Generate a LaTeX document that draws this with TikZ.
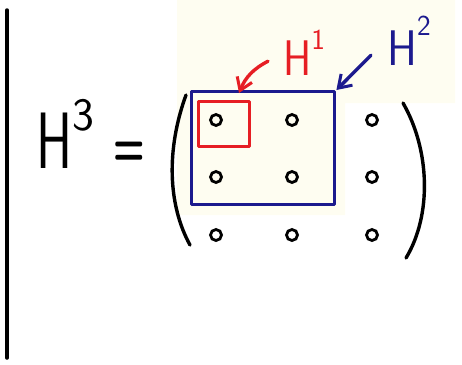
\documentclass[tikz,border=0pt]{standalone}
\usepackage{fontspec}
\usepackage{graphicx}
\usetikzlibrary{arrows.meta,positioning}
\definecolor{penblue}{HTML}{1C1A8E}
\definecolor{penred}{HTML}{E61E24}
\definecolor{paper}{HTML}{FEFDF1}
% letter with a raised index, scaled with the current font
\newcommand{\Hsup}[3]{\scalebox{#3}[1]{H}\raisebox{#1}{\scalebox{.58}{#2}}}

\begin{document}
\begin{tikzpicture}[x=1pt,y=-1pt,
  ink/.style={line width=3.4pt,line cap=round,line join=round},
  dot/.style={circle,draw,line width=2.8pt,minimum size=11pt,inner sep=0pt},
  bigtxt/.style={font=\sffamily\fontsize{80}{80}\selectfont,inner sep=0pt},
  smalltxt/.style={font=\sffamily\fontsize{50}{50}\selectfont,inner sep=0pt},
  pointer/.style={ink,-{Straight Barb[length=12pt,width=16pt,line width=3pt]}}]
  \useasboundingbox (0,0) rectangle (462,364);
  % paper tint behind the boxes
  \fill[paper] (177,0) -- (455,0) -- (455,103) -- (345,103) -- (345,215) -- (177,215) -- cycle;
  % margin line
  \draw[ink,line width=3.5pt] (7,10) -- (7,358);

  \node[bigtxt,anchor=base west] (lhs) at (36,168) {\Hsup{.47em}{3}{.68}};
  \node[bigtxt,anchor=base,font=\sffamily\bfseries\fontsize{46}{46}\selectfont] (eq) at (129,165)
    {\scalebox{.8}[1.25]{=}};

  % brackets
  \draw[ink] (186,95) .. controls (166,150) and (168,205) .. (190,245);
  \draw[ink] (403,103) .. controls (430,150) and (432,215) .. (406,258);

  \node[ink,draw=penblue,minimum width=143pt,minimum height=113pt,inner sep=0pt,
        anchor=north west] (blk) at (190,90) {};
  \node[ink,draw=penred,minimum width=51pt,minimum height=45pt,inner sep=0pt,
        anchor=north west] (cell) at (197,100) {};

  \foreach \r/\y in {1/120,2/177,3/235}
    \foreach \c/\x in {1/216,2/292,3/372}
      \node[dot] (m\r\c) at (\x,\y) {};

  \node[smalltxt,text=penred,anchor=base west] (hone) at (283,75) {\Hsup{.52em}{1}{.85}};
  \node[smalltxt,text=penblue,anchor=base west] (htwo) at (387,65) {\Hsup{.6em}{2}{.9}};

  \coordinate (redtip) at (239,93);
  \draw[pointer,penred] ([shift={(-15,-14)}]hone.south west) to[bend right=20] (redtip);
  \draw[pointer,penblue] ([shift={(-16,-10)}]htwo.south west) -- (blk.north east);
\end{tikzpicture}
\end{document}
